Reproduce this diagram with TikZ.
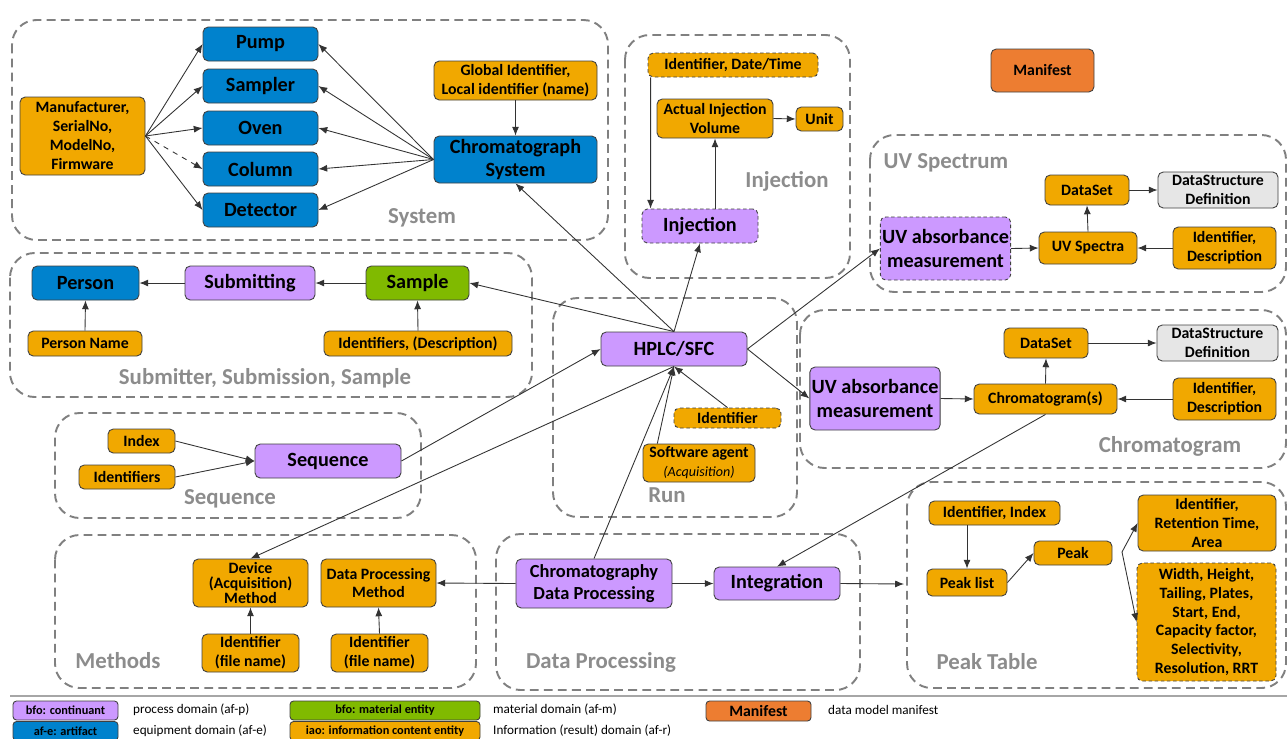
\documentclass[tikz,border=0pt]{standalone}
\usepackage{fontspec}
\setmainfont{Carlito}
\usetikzlibrary{arrows.meta,positioning,calc}

\definecolor{procc}{RGB}{204,153,255}
\definecolor{equipc}{RGB}{0,130,205}
\definecolor{matc}{RGB}{128,186,0}
\definecolor{infoc}{RGB}{241,168,0}
\definecolor{defc}{RGB}{230,230,230}
\definecolor{manc}{RGB}{237,125,49}
\definecolor{grpc}{RGB}{128,128,128}
\definecolor{grplbl}{RGB}{140,140,140}

\tikzstyle{box}=[rectangle,rounded corners=3pt,draw=black!75,line width=0.5pt,align=center,inner sep=1pt,font=\bfseries\fontsize{9}{10.8}\selectfont]
\tikzstyle{infobox}=[box,fill=infoc]
\tikzstyle{defbox}=[box,fill=defc]
\tikzstyle{procbox}=[box,fill=procc,font=\bfseries\fontsize{11.5}{13.5}\selectfont]
\tikzstyle{equipbox}=[box,fill=equipc,font=\bfseries\fontsize{11.5}{13.5}\selectfont]
\tikzstyle{matbox}=[box,fill=matc,font=\bfseries\fontsize{11.5}{13.5}\selectfont]
\tikzstyle{optional}=[dash pattern=on 2pt off 1.5pt]
\tikzstyle{group}=[draw=grpc,line width=1.1pt,dash pattern=on 5pt off 3pt,rounded corners=14pt]
\tikzstyle{grouplabel}=[text=grplbl,font=\bfseries\fontsize{13}{15}\selectfont]
\tikzstyle{edge}=[draw,-{Latex[length=5pt,width=4pt]},line width=0.5pt,black!80]
\tikzstyle{legendbox}=[box,rounded corners=2pt,font=\bfseries\fontsize{7}{8}\selectfont]
\tikzstyle{legendtext}=[anchor=west,font=\fontsize{7.5}{8.5}\selectfont]
\tikzset{sz/.style 2 args={minimum width=#1*0.02cm,minimum height=#2*0.02cm}}

\begin{document}
\begin{tikzpicture}[x=0.02cm,y=-0.02cm]

  \useasboundingbox (0,0) rectangle (1287,738);

  % domain frames
  \foreach \xa/\ya/\xb/\yb in {12/20/608/240, 625/35/850/278, 870/135/1286/292, 800/310/1286/468,
                               10/253/532/397, 55/413/421/518, 553/298/797/517, 55/535/476/688,
                               496/534/860/690, 907/482/1286/688}
          \draw[group] (\xa,\ya) rectangle (\xb,\yb);

  \foreach \x/\y/\name/\label in {422/218/lsys/System, 787/181/linj/Injection, 946/163/luv/UV Spectrum,
                                  1170/446/lchr/Chromatogram, 265/378/lsub/{Submitter, Submission, Sample},
                                  230/499/lseq/Sequence, 667/495/lrun/Run, 118/661/lmet/Methods,
                                  601/662/ldp/Data Processing, 987/662/lpt/Peak Table}
          \node[grouplabel] (\name) at (\x,\y) {\label};

  % equipment
  \foreach \x/\y/\name/\label in {260.5/44/pump/Pump, 260.5/86/sampler/Sampler, 260.5/128/oven/Oven,
                                  260.5/169/column/Column, 260.5/210/detector/Detector}
          \node[equipbox,sz={115}{34}] (\name) at (\x,\y) {\label};
  \node[equipbox,sz={163}{47}] (csys) at (515.5,159.5) {Chromatograph\\System};
  \node[equipbox,sz={107}{34}] (person) at (85.5,283) {Person};
  \node[matbox,sz={103}{34}] (sample) at (417.5,283) {Sample};

  % processes
  \foreach \x/\y/\w/\h/\name/\label in {250/283/130/34/submit/Submitting, 328/461/146/34/seq/Sequence,
                                        674/349/146/34/hplc/{HPLC/SFC}, 875/398.5/126/63/uvabsb/{UV absorbance\\measurement},
                                        777/583.5/126/33/integ/Integration}
          \node[procbox,sz={\w}{\h}] (\name) at (\x,\y) {\label};
  \node[procbox,optional,sz={116}{34}] (inj) at (700,226) {Injection};
  \node[procbox,optional,sz={125}{63}] (uvabsa) at (945.5,248.5) {UV absorbance\\measurement};
  \node[procbox,sz={156}{49},font=\bfseries\fontsize{10.5}{12.5}\selectfont] (cdp) at (594,583.5) {Chromatography\\Data Processing};

  % information content
  \foreach \x/\y/\w/\h/\name/\label in {82.5/136/125/78/mfr/{Manufacturer,\\SerialNo,\\ModelNo,\\Firmware},
                                        515.5/80.5/163/39/gid/{Global Identifier,\\Local identifier (name)},
                                        715/118.5/116/39/aiv/{Actual Injection\\Volume}, 819.5/119/47/24/unit/Unit,
                                        1087/190/84/30/dsa/DataSet, 1088/248/98/32/uvsp/UV Spectra,
                                        1224.5/248/103/42/idda/{Identifier,\\Description},
                                        1046/343/84/30/dsb/DataSet, 1045.5/399/143/30/chrom/Chromatogram(s),
                                        1224.5/399/103/42/iddb/{Identifier,\\Description},
                                        85/343.5/114/25/pname/Person Name, 418/343.5/188/25/ids/{Identifiers, (Description)},
                                        141.5/441/67/24/index/Index, 127/477/96/24/idents/Identifiers,
                                        378.5/583/115/48/dpm/{Data Processing\\Method},
                                        250.5/653/97/38/fna/{Identifier\\(file name)}, 379.5/653/97/38/fnb/{Identifier\\(file name)},
                                        994.5/513/131/24/idx/{Identifier, Index}, 967/582.5/80/27/plist/Peak list,
                                        1073/553/78/24/peak/Peak, 1207/523/138/56/irt/{Identifier,\\Retention Time,\\Area}}
          \node[infobox,sz={\w}{\h}] (\name) at (\x,\y) {\label};
  \node[infobox,sz={115}{48},font=\bfseries\fontsize{9}{8.8}\selectfont] (devm) at (250.5,583) {Device\\(Acquisition)\\Method};
  \node[infobox,optional,sz={170}{24}] (idt) at (733,65) {Identifier, Date/Time};
  \node[infobox,optional,sz={107}{20}] (rid) at (727.5,418) {Identifier};
  \node[infobox,sz={112}{38}] (sw) at (699,463) {Software agent\\{\normalfont\itshape\fontsize{8}{9}\selectfont (Acquisition)}};
  \node[infobox,optional,sz={139}{118}] (wid) at (1206.5,622) {Width, Height,\\Tailing, Plates,\\Start, End,\\Capacity factor,\\Selectivity,\\Resolution, RRT};

  \node[defbox,sz={120}{36}] (dsda) at (1218,190) {DataStructure\\Definition};
  \node[defbox,sz={121}{36}] (dsdb) at (1217.5,343) {DataStructure\\Definition};
  \node[box,fill=manc,sz={103}{43}] (manifest) at (1042.5,70.5) {Manifest};

  \coordinate (ptin) at (904,584);
  \coordinate (pfork) at (1122,552);

  % connectors
  \foreach \source/\dest in {mfr.east/pump.west, mfr.east/sampler.west, mfr.east/oven.west, mfr.east/detector.west,
                             csys.west/pump.east, csys.west/sampler.east, csys.west/oven.east, csys.west/column.east,
                             csys.west/detector.east, gid.south/csys.north, aiv.east/unit.west,
                             hplc.north/csys.south, hplc.north/inj.south, hplc.north/sample.east,
                             hplc.east/uvabsa.west, hplc.east/uvabsb.west, seq.east/hplc.west, hplc.south/devm.north,
                             cdp.north/hplc.south, sw.155/hplc.south, rid.north/hplc.south,
                             submit.west/person.east, sample.west/submit.east, pname.north/person.south, ids.north/sample.south,
                             index.east/seq.west, idents.east/seq.west,
                             uvabsa.east/uvsp.west, uvsp.north/dsa.south, dsa.east/dsda.west, idda.west/uvsp.east,
                             uvabsb.east/chrom.west, chrom.north/dsb.south, dsb.east/dsdb.west, iddb.west/chrom.east,
                             chrom.south/integ.north, cdp.east/integ.west, cdp.west/dpm.east,
                             fna.north/devm.south, fnb.north/dpm.south, integ.east/ptin,
                             plist.east/peak.west, pfork/irt.west, pfork/wid.west}
         \path[edge] (\source) -- (\dest);

  \path[edge,dashed] (mfr.east) -- (column.west);
  \path[edge] ([xshift=0.06cm]idt.south west) -- ([xshift=0.18cm]inj.north west);
  \path[edge] (inj.north -| aiv.south) -- (aiv.south);
  \path[edge] (idx.south -| plist.north) -- (plist.north);

  % legend
  \draw[grpc!70,line width=0.6pt] (10,696) -- (1287,696);
  \node[legendbox,fill=procc,sz={105}{19}] (lgp) at (65.5,710.5) {bfo: continuant};
  \node[legendbox,fill=equipc,sz={105}{19}] (lge) at (65.5,731) {af-e: artifact};
  \node[legendbox,fill=matc,sz={190}{19}] (lgm) at (385,710.5) {bfo: material entity};
  \node[legendbox,fill=infoc,sz={190}{19}] (lgi) at (385,731) {iao: information content entity};
  \node[legendbox,fill=manc,sz={105}{20},font=\bfseries\fontsize{9}{10}\selectfont] (lgman) at (758.5,711) {Manifest};
  \foreach \x/\y/\name/\label in {127/710/tp/process domain (af-p), 127/731/te/equipment domain (af-e),
                                  487/710/tm/material domain (af-m), 487/731/ti/Information (result) domain (af-r),
                                  822/710/tman/data model manifest}
          \node[legendtext] (\name) at (\x,\y) {\label};

\end{tikzpicture}
\end{document}
